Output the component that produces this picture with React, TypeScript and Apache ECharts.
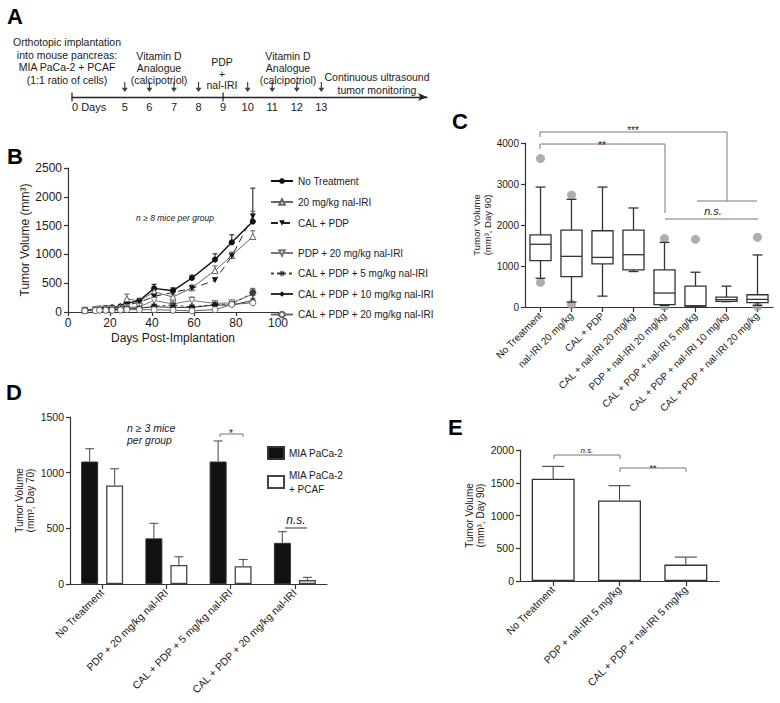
import React, { useEffect, useRef } from 'react';
import * as echarts from 'echarts';

const FONT = '"Liberation Sans", Arial, Helvetica, sans-serif';
const TXT = '#1a1a1a';
const AX = '#333';

// ---------- Panel A (timeline) ----------
const timelineLabelDays = [5, 6, 7, 8, 9, 10, 11, 12, 13];
const vitaminDDays = [5, 6, 7, 8, 10, 11, 12, 13];
const pdpDays = [9];
const TIMELINE_START = 2.85; // axis position standing for "0 Days" (broken scale)
const TIMELINE_END = 17.3;

// ---------- Panel B (growth curves) ----------
const bDays = [8, 13, 15, 18, 21, 25, 28, 34, 41, 50, 59, 70, 78, 88];
const bNoTreatment = [40, 45, 60, 70, 80, 100, 150, 200, 410, 370, 590, 910, 1210, 1570];
const bNoTreatmentErr = [10, 10, 20, 15, 20, 25, 40, 30, 70, 50, 50, 100, 130, 580];
const bNalIRI20 = [30, 40, 50, 55, 60, 80, 230, 190, 350, 260, 420, 720, 980, 1310];
const bNalIRI20Err = [5, 5, 20, 10, 10, 20, 80, 20, 60, 40, 50, 80, 60, 100];
const bCalPdp = [30, 40, 50, 60, 60, 70, 120, 170, 270, 340, 410, 550, 970, 1660];
const bCalPdpErr = [5, 5, 10, 10, 10, 15, 20, 20, 30, 30, 40, 40, 60, 90];
const bPdpNal20 = [30, 40, 50, 50, 50, 60, 80, 90, 200, 140, 200, 150, 160, 310];
const bPdpNal20Err = [5, 5, 10, 10, 10, 10, 15, 20, 60, 40, 60, 30, 40, 100];
const bCalPdpNal5 = [25, 30, 40, 40, 40, 50, 60, 60, 100, 120, 90, 130, 140, 330];
const bCalPdpNal5Err = [5, 5, 5, 5, 5, 10, 10, 10, 20, 20, 20, 20, 30, 60];
const bCalPdpNal10 = [25, 30, 40, 40, 40, 50, 60, 70, 90, 80, 80, 120, 120, 200];
const bCalPdpNal10Err = [5, 5, 5, 5, 5, 10, 10, 10, 20, 20, 20, 20, 30, 40];
const bCalPdpNal20 = [20, 25, 30, 30, 30, 35, 40, 40, 40, 30, 20, 40, 130, 160];
const bCalPdpNal20Err = [5, 5, 5, 5, 5, 5, 10, 10, 10, 10, 10, 10, 20, 30];

// ---------- Panel C (box plots, day 90) ----------
const cCategories = [
  'No Treatment',
  'nal-IRI 20 mg/kg',
  'CAL + PDP',
  'CAL + nal-IRI 20 mg/kg',
  'PDP + nal-IRI 20 mg/kg',
  'CAL + PDP + nal-IRI 5 mg/kg',
  'CAL + PDP + nal-IRI 10 mg/kg',
  'CAL + PDP + nal-IRI 20 mg/kg',
];
const cLow = [700, 120, 265, 865, 40, 16, 130, 40];
const cQ1 = [1130, 740, 1050, 905, 57, 24, 137, 105];
const cMedian = [1530, 1235, 1210, 1275, 340, 26, 180, 186];
const cQ3 = [1760, 1875, 1860, 1875, 905, 509, 242, 299];
const cHigh = [2925, 2625, 2925, 2415, 1575, 848, 509, 1270];
const cOutlierGroup = ['No Treatment', 'No Treatment', 'nal-IRI 20 mg/kg', 'nal-IRI 20 mg/kg',
  'PDP + nal-IRI 20 mg/kg', 'PDP + nal-IRI 20 mg/kg', 'CAL + PDP + nal-IRI 5 mg/kg',
  'CAL + PDP + nal-IRI 20 mg/kg', 'CAL + PDP + nal-IRI 20 mg/kg'];
const cOutlierValue = [3620, 600, 2730, 60, 1670, 15, 1650, 1700, 15];

// ---------- Panel D (day 70 bars) ----------
const dCategories = [
  'No Treatment',
  'PDP + 20 mg/kg nal-IRI',
  'CAL + PDP + 5 mg/kg nal-IRI',
  'CAL + PDP + 20 mg/kg nal-IRI',
];
const dMia = [1100, 410, 1100, 370];
const dMiaErr = [115, 135, 185, 100];
const dMiaPcaf = [885, 170, 160, 35];
const dMiaPcafErr = [150, 75, 60, 25];

// ---------- Panel E (day 90 bars) ----------
const eCategories = ['No Treatment', 'PDP + nal-IRI 5 mg/kg', 'CAL + PDP + nal-IRI 5 mg/kg'];
const eValues = [1560, 1230, 250];
const eErr = [190, 225, 115];

const ARROW = 'path://M4,0 L6,0 L6,9 L10,9 L5,16 L0,9 L4,9 Z';
const DOWN_TRI = 'path://M0,0 L10,0 L5,9 Z';
const ASTERISK =
  'path://M-1,-5 L1,-5 L1,5 L-1,5 Z M-5,-1 L5,-1 L5,1 L-5,1 Z M-4.2,-2.8 L2.8,4.2 L4.2,2.8 L-2.8,-4.2 Z M4.2,-2.8 L-2.8,4.2 L-4.2,2.8 L2.8,-4.2 Z';

const plain = (v: number) => String(v);

const errorRender = (capHalf: number, offset: number, color: string) => (params: any, api: any) => {
  const x = api.value(0);
  const y = api.value(1);
  const e = api.value(2);
  const p0 = api.coord([x, y]);
  const p1 = api.coord([x, y + e]);
  const cx = p0[0] + offset;
  const style = { stroke: color, lineWidth: 1.1 };
  return {
    type: 'group',
    children: [
      { type: 'line', shape: { x1: cx, y1: p0[1], x2: cx, y2: p1[1] }, style },
      { type: 'line', shape: { x1: cx - capHalf, y1: p1[1], x2: cx + capHalf, y2: p1[1] }, style },
    ],
  };
};

const boxRender = (params: any, api: any) => {
  const i = api.value(0);
  const lo = api.coord([i, api.value(1)]);
  const q1 = api.coord([i, api.value(2)]);
  const md = api.coord([i, api.value(3)]);
  const q3 = api.coord([i, api.value(4)]);
  const hi = api.coord([i, api.value(5)]);
  const cx = md[0];
  const band = api.size([1, 0])[0];
  const hw = band * 0.34;
  const cap = band * 0.16;
  const st = { stroke: '#333', lineWidth: 1.3 };
  return {
    type: 'group',
    children: [
      { type: 'line', shape: { x1: cx, y1: hi[1], x2: cx, y2: q3[1] }, style: st },
      { type: 'line', shape: { x1: cx, y1: q1[1], x2: cx, y2: lo[1] }, style: st },
      { type: 'line', shape: { x1: cx - cap, y1: hi[1], x2: cx + cap, y2: hi[1] }, style: st },
      { type: 'line', shape: { x1: cx - cap, y1: lo[1], x2: cx + cap, y2: lo[1] }, style: st },
      { type: 'rect', shape: { x: cx - hw, y: q3[1], width: 2 * hw, height: q1[1] - q3[1] }, style: { stroke: '#333', lineWidth: 1.3, fill: '#fff' } },
      { type: 'line', shape: { x1: cx - hw, y1: md[1], x2: cx + hw, y2: md[1] }, style: st },
    ],
  };
};

const bGroups = [
  { name: 'No Treatment', values: bNoTreatment, errs: bNoTreatmentErr, symbol: 'circle', fill: '#111', color: '#111', type: 'solid', width: 1.4, size: 6 },
  { name: '20 mg/kg nal-IRI', values: bNalIRI20, errs: bNalIRI20Err, symbol: 'triangle', fill: '#fff', color: '#666', type: 'solid', width: 1, size: 6 },
  { name: 'CAL + PDP', values: bCalPdp, errs: bCalPdpErr, symbol: DOWN_TRI, fill: '#111', color: '#222', type: [7, 5], width: 1, size: 6 },
  { name: 'PDP + 20 mg/kg nal-IRI', values: bPdpNal20, errs: bPdpNal20Err, symbol: DOWN_TRI, fill: '#fff', color: '#777', type: 'solid', width: 1, size: 6 },
  { name: 'CAL + PDP + 5 mg/kg nal-IRI', values: bCalPdpNal5, errs: bCalPdpNal5Err, symbol: ASTERISK, fill: '#222', color: '#444', type: [3, 3], width: 1, size: 7 },
  { name: 'CAL + PDP + 10 mg/kg nal-IRI', values: bCalPdpNal10, errs: bCalPdpNal10Err, symbol: 'diamond', fill: '#111', color: '#333', type: 'solid', width: 1, size: 6 },
  { name: 'CAL + PDP + 20 mg/kg nal-IRI', values: bCalPdpNal20, errs: bCalPdpNal20Err, symbol: 'circle', fill: '#fff', color: '#666', type: 'solid', width: 1, size: 6 },
];

const axisLineStyle = { show: true, lineStyle: { color: AX, width: 1.2 } };
const axisTickStyle = { show: true, length: 4, lineStyle: { color: AX, width: 1.2 } };

const txt = (text: string, x: number, y: number, size: number, opts: any = {}) => ({
  type: 'text',
  x,
  y,
  silent: true,
  style: {
    text,
    fill: opts.fill || TXT,
    font: `${opts.italic ? 'italic ' : ''}${opts.bold ? 'bold ' : ''}${size}px ${FONT}`,
    align: opts.align || 'center',
    verticalAlign: 'middle',
    lineHeight: opts.lineHeight || size * 1.2,
  },
});
const poly = (points: number[][], color = '#777', width = 1) => ({
  type: 'polyline',
  silent: true,
  shape: { points },
  style: { stroke: color, lineWidth: width, fill: 'none' },
});

function buildOption(): any {
  const grids = [
    { left: 72, top: 77, width: 355, height: 20 },
    { left: 68, top: 168, width: 210, height: 144 },
    { left: 525, top: 143, width: 248, height: 164 },
    { left: 70, top: 417, width: 257, height: 167 },
    { left: 520, top: 450, width: 199, height: 131 },
  ].map((g) => ({ ...g, containLabel: false, outerBoundsMode: 'none' }));

  const catAxis = (gridIndex: number, data: string[], fontSize: number) => ({
    type: 'category',
    gridIndex,
    data,
    axisLine: axisLineStyle,
    axisTick: { ...axisTickStyle, alignWithLabel: true, length: 5 },
    axisLabel: { rotate: 45, interval: 0, fontSize, color: TXT, fontFamily: FONT, margin: 7 },
    splitLine: { show: false },
  });
  const valAxisY = (gridIndex: number, max: number, interval: number, fontSize: number, name: string, nameGap: number, nameSize: number) => ({
    type: 'value',
    gridIndex,
    min: 0,
    max,
    interval,
    axisLine: axisLineStyle,
    axisTick: axisTickStyle,
    axisLabel: { fontSize, color: TXT, fontFamily: FONT, margin: 6, formatter: plain },
    splitLine: { show: false },
    name,
    nameLocation: 'middle',
    nameRotate: 90,
    nameGap,
    nameTextStyle: { fontSize: nameSize, color: TXT, fontFamily: FONT, lineHeight: nameSize * 1.15 },
  });

  const series: any[] = [];

  // Panel A
  series.push({
    type: 'scatter', xAxisIndex: 0, yAxisIndex: 0, silent: true,
    data: vitaminDDays.map((d) => [d, 0.5]),
    symbol: ARROW, symbolSize: [6, 10], itemStyle: { color: '#111' },
  });
  series.push({
    type: 'scatter', xAxisIndex: 0, yAxisIndex: 0, silent: true,
    data: [[TIMELINE_START, 0], ...pdpDays.map((d) => [d, 0])],
    symbol: 'rect', symbolSize: [1.4, 9], itemStyle: { color: '#111' },
  });

  // Panel B
  bGroups.forEach((g) => {
    series.push({
      type: 'custom', xAxisIndex: 1, yAxisIndex: 1, silent: true,
      renderItem: errorRender(2.5, 0, g.color === '#111' ? '#222' : '#666'),
      encode: { x: 0, y: 1 },
      data: bDays.map((d, i) => [d, g.values[i], g.errs[i]]),
      z: 1,
    });
    series.push({
      type: 'line', name: g.name, xAxisIndex: 1, yAxisIndex: 1,
      data: bDays.map((d, i) => [d, g.values[i]]),
      symbol: g.symbol, symbolSize: g.size, showSymbol: true,
      itemStyle: { color: g.fill, borderColor: g.color, borderWidth: g.fill === '#fff' ? 1 : 0 },
      lineStyle: { color: g.color, width: g.width, type: g.type },
      emphasis: { disabled: true },
      z: 3,
    });
  });

  // Panel C
  series.push({
    type: 'custom', xAxisIndex: 2, yAxisIndex: 2, silent: true,
    renderItem: boxRender,
    encode: { x: 0, y: [1, 2, 3, 4, 5] },
    data: cCategories.map((c, i) => [i, cLow[i], cQ1[i], cMedian[i], cQ3[i], cHigh[i]]),
    z: 2,
  });
  series.push({
    type: 'scatter', xAxisIndex: 2, yAxisIndex: 2, silent: true,
    data: cOutlierGroup.map((g, i) => [g, cOutlierValue[i]]),
    symbol: 'circle', symbolSize: 9, itemStyle: { color: '#9a9a9a' }, z: 1,
  });

  // Panel D
  series.push({
    type: 'bar', name: 'MIA PaCa-2', xAxisIndex: 3, yAxisIndex: 3, data: dMia,
    barWidth: 17, barGap: '47%',
    itemStyle: { color: '#111', borderColor: '#333', borderWidth: 1 },
  });
  series.push({
    type: 'bar', name: 'MIA PaCa-2 + PCAF', xAxisIndex: 3, yAxisIndex: 3, data: dMiaPcaf,
    barWidth: 17, barGap: '47%',
    itemStyle: { color: '#fff', borderColor: '#444', borderWidth: 1.3 },
  });
  series.push({
    type: 'custom', xAxisIndex: 3, yAxisIndex: 3, silent: true,
    renderItem: errorRender(4.5, -12.5, '#555'), encode: { x: 0, y: 1 },
    data: dCategories.map((c, i) => [i, dMia[i], dMiaErr[i]]), z: 5,
  });
  series.push({
    type: 'custom', xAxisIndex: 3, yAxisIndex: 3, silent: true,
    renderItem: errorRender(4.5, 12.5, '#555'), encode: { x: 0, y: 1 },
    data: dCategories.map((c, i) => [i, dMiaPcaf[i], dMiaPcafErr[i]]), z: 5,
  });

  // Panel E
  series.push({
    type: 'bar', name: 'E', xAxisIndex: 4, yAxisIndex: 4, data: eValues, barWidth: 43,
    itemStyle: { color: '#fff', borderColor: '#333', borderWidth: 1.3 },
  });
  series.push({
    type: 'custom', xAxisIndex: 4, yAxisIndex: 4, silent: true,
    renderItem: errorRender(11, 0, '#444'), encode: { x: 0, y: 1 },
    data: eCategories.map((c, i) => [i, eValues[i], eErr[i]]), z: 5,
  });

  const legendText = { fontSize: 10, color: TXT, fontFamily: FONT, lineHeight: 10 };

  return {
    animation: false,
    backgroundColor: '#fff',
    textStyle: { fontFamily: FONT },
    grid: grids,
    xAxis: [
      {
        type: 'value', gridIndex: 0, min: TIMELINE_START, max: TIMELINE_END,
        axisLine: { show: true, lineStyle: { color: '#222', width: 1.3 }, symbol: ['none', 'arrow'], symbolSize: [6, 9] },
        axisTick: { show: false },
        splitLine: { show: false },
        axisLabel: {
          customValues: [TIMELINE_START, ...timelineLabelDays],
          formatter: (v: number) => (v < 4 ? '0 Days' : String(v)),
          alignMinLabel: 'left',
          fontSize: 11, color: TXT, fontFamily: FONT, margin: 4,
        },
      },
      {
        type: 'value', gridIndex: 1, min: 0, max: 100, interval: 20,
        axisLine: axisLineStyle, axisTick: axisTickStyle, splitLine: { show: false },
        axisLabel: { fontSize: 12, color: TXT, fontFamily: FONT, margin: 5, formatter: plain },
        name: 'Days Post-Implantation', nameLocation: 'middle', nameGap: 20,
        nameTextStyle: { fontSize: 12, color: TXT, fontFamily: FONT },
      },
      catAxis(2, cCategories, 10),
      catAxis(3, dCategories, 10.5),
      catAxis(4, eCategories, 10.5),
    ],
    yAxis: [
      { type: 'value', gridIndex: 0, min: 0, max: 1, show: false },
      valAxisY(1, 2500, 500, 12, 'Tumor Volume (mm³)', 31, 12),
      valAxisY(2, 4000, 1000, 10, 'Tumor Volume\n(mm³, Day 90)', 30, 9.5),
      valAxisY(3, 1500, 500, 10.5, 'Tumor Volume\n(mm³, Day 70)', 32, 10),
      valAxisY(4, 2000, 500, 10.5, 'Tumor Volume\n(mm³, Day 90)', 31, 10),
    ],
    legend: [
      {
        data: ['No Treatment', '20 mg/kg nal-IRI', 'CAL + PDP'],
        orient: 'vertical', left: 270, top: 176, itemWidth: 22, itemHeight: 7, itemGap: 11,
        selectedMode: false, textStyle: legendText, padding: 0,
      },
      {
        data: ['PDP + 20 mg/kg nal-IRI', 'CAL + PDP + 5 mg/kg nal-IRI', 'CAL + PDP + 10 mg/kg nal-IRI', 'CAL + PDP + 20 mg/kg nal-IRI'],
        orient: 'vertical', left: 270, top: 248, itemWidth: 22, itemHeight: 7, itemGap: 10.5,
        selectedMode: false, textStyle: legendText, padding: 0,
      },
      {
        data: ['MIA PaCa-2', 'MIA PaCa-2 + PCAF'],
        orient: 'vertical', left: 267, top: 446, itemWidth: 16, itemHeight: 12, itemGap: 8,
        icon: 'rect', selectedMode: false, padding: 0,
        textStyle: { ...legendText, lineHeight: 14 },
        formatter: (n: string) => (n === 'MIA PaCa-2 + PCAF' ? 'MIA PaCa-2\n+ PCAF' : n),
      },
    ],
    series,
    graphic: [
      // panel letters
      txt('A', 7, 16, 22, { bold: true, align: 'left', fill: '#000' }),
      txt('B', 7, 156, 22, { bold: true, align: 'left', fill: '#000' }),
      txt('C', 452, 121, 22, { bold: true, align: 'left', fill: '#000' }),
      txt('D', 6, 392, 22, { bold: true, align: 'left', fill: '#000' }),
      txt('E', 448, 427, 22, { bold: true, align: 'left', fill: '#000' }),
      // panel A annotations
      txt('Orthotopic implantation\ninto mouse pancreas:\nMIA PaCa-2 + PCAF\n(1:1 ratio of cells)', 67, 61, 10.5, { lineHeight: 12.8 }),
      txt('Vitamin D\nAnalogue\n(calcipotriol)', 159, 68, 10.5, { lineHeight: 12 }),
      txt('PDP\n+\nnal-IRI', 222, 73.5, 10.5, { lineHeight: 11.5 }),
      txt('Vitamin D\nAnalogue\n(calcipotriol)', 288, 68, 10.5, { lineHeight: 12 }),
      txt('Continuous ultrasound\ntumor monitoring', 377, 83.5, 10.5, { lineHeight: 13 }),
      // panel B
      txt('n ≥ 8 mice per group', 175, 218, 8.5, { italic: true }),
      // panel C brackets
      poly([[540, 137], [540, 132], [727, 132], [727, 201]]),
      poly([[697, 201], [757, 201]]),
      txt('***', 633, 130, 10),
      poly([[540, 149], [540, 144], [665, 144], [665, 213]]),
      poly([[665, 219], [758, 219]]),
      txt('**', 602, 145, 10),
      txt('n.s.', 713, 211, 11, { italic: true }),
      // panel D
      txt('n ≥ 3 mice\nper group', 127, 434, 10.5, { italic: true, align: 'left', lineHeight: 12 }),
      poly([[220, 437], [220, 434], [243, 434], [243, 437]]),
      txt('*', 231, 433, 10),
      txt('n.s.', 296, 520, 12, { italic: true }),
      poly([[285, 528], [307, 528]], '#999', 2),
      // panel E
      poly([[554, 459], [554, 455], [620, 455], [620, 459]]),
      txt('n.s.', 587, 450, 8, { italic: true }),
      poly([[620, 472], [620, 468], [686, 468], [686, 472]]),
      txt('**', 653, 468, 9),
    ],
  };
}

export default function App() {
  const ref = useRef<HTMLDivElement>(null);
  useEffect(() => {
    document.body.style.margin = '0';
    const chart = echarts.init(ref.current as HTMLDivElement, null, { renderer: 'svg' });
    chart.setOption(buildOption());
    return () => chart.dispose();
  }, []);
  return <div ref={ref} style={{ width: 780, height: 703, background: '#fff' }} />;
}
